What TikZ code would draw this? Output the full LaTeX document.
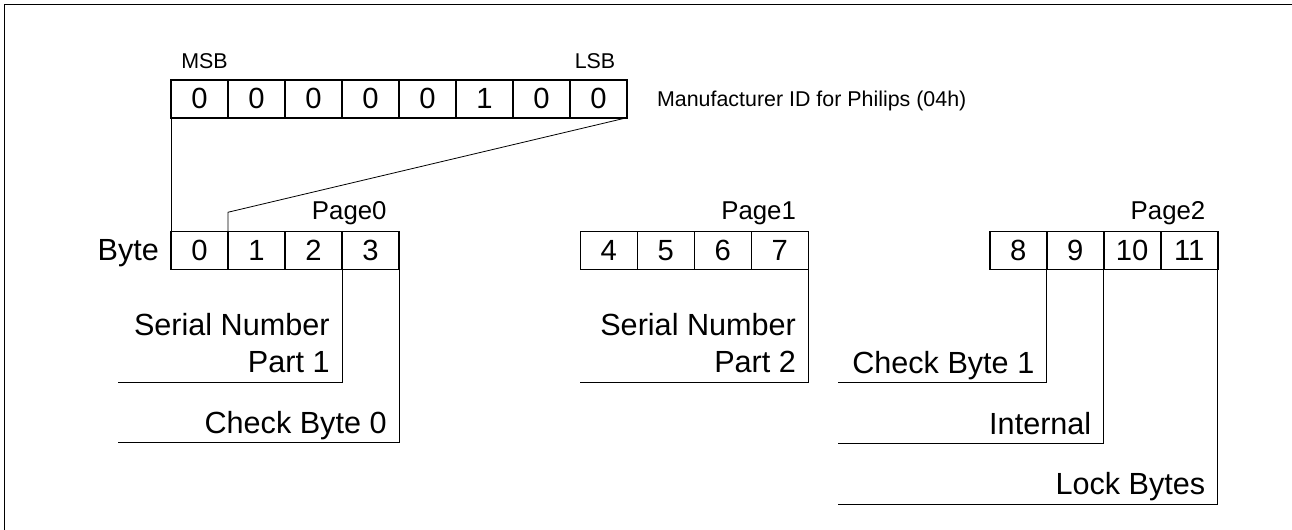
\documentclass[tikz,border=0pt]{standalone}
\usepackage{fontspec}
\setmainfont{Liberation Sans}
\usetikzlibrary{calc,positioning}

\tikzset{
	cell/.style={draw=black,line width=0.8pt,minimum width=28.5pt,minimum height=18.85pt,inner sep=0pt,outer sep=0pt,font=\fontsize{14.6}{18}\selectfont},
	lead/.style={draw=black,line width=0.4pt},
	tag/.style={inner sep=0pt,font=\fontsize{15.3}{18.8}\selectfont},
	pagetag/.style={inner sep=0pt,anchor=base east,font=\fontsize{12.9}{15}\selectfont},
	bittag/.style={inner sep=0pt,font=\fontsize{10.7}{13}\selectfont}
}

\begin{document}
\begin{tikzpicture}[x=0.5pt,y=-0.5pt]
		\useasboundingbox (0,0) rectangle (1292,530);
		\draw[line width=0.8pt] (4.5,530) -- (4.5,4.5) -- (1292,4.5);

		\coordinate(T) at (199.5,98.85);
		\coordinate(P0) at (199.5,250.5);
		\coordinate(P1) at (608.8,250.5);
		\coordinate(P2) at (1018.2,250.5);

		% Draw bits of the manufacturer byte
		\node[cell] (bit0) at (T) {0};
		\node[cell] (bit1) at ($(T)+(57,0)$) {0};
		\node[cell] (bit2) at ($(T)+(114,0)$) {0};
		\node[cell] (bit3) at ($(T)+(171,0)$) {0};
		\node[cell] (bit4) at ($(T)+(228,0)$) {0};
		\node[cell] (bit5) at ($(T)+(285,0)$) {1};
		\node[cell] (bit6) at ($(T)+(342,0)$) {0};
		\node[cell] (bit7) at ($(T)+(399,0)$) {0};
		\node[bittag,anchor=base] (msb) at ($(bit0.north)+(5,-11.7)$) {MSB};
		\node[bittag,anchor=base] (lsb) at ($(bit7.north)+(-3.5,-11.7)$) {LSB};
		\node[bittag,anchor=base west] (mfr) at ($(bit7.east)+(29.7,7.85)$) {Manufacturer ID for Philips (04h)};

		% Draw pages
		\node[cell] (byte0) at (P0) {0};
		\node[cell] (byte1) at ($(P0)+(57,0)$) {1};
		\node[cell] (byte2) at ($(P0)+(114,0)$) {2};
		\node[cell] (byte3) at ($(P0)+(171,0)$) {3};
		\node[cell] (byte4) at (P1) {4};
		\node[cell] (byte5) at ($(P1)+(57,0)$) {5};
		\node[cell] (byte6) at ($(P1)+(114,0)$) {6};
		\node[cell] (byte7) at ($(P1)+(171,0)$) {7};
		\node[cell] (byte8) at (P2) {8};
		\node[cell] (byte9) at ($(P2)+(57,0)$) {9};
		\node[cell] (byte10) at ($(P2)+(114,0)$) {10};
		\node[cell] (byte11) at ($(P2)+(171,0)$) {11};
		\node[tag,anchor=base east] (bytetag) at ($(byte0.west)+(-11.7,9.5)$) {Byte};
		\node[pagetag] (page0) at ($(byte3.north east)+(-12,-11.7)$) {Page0};
		\node[pagetag] (page1) at ($(byte7.north east)+(-12,-11.7)$) {Page1};
		\node[pagetag] (page2) at ($(byte11.north east)+(-12,-11.7)$) {Page2};

		% Byte 0 expanded
		\coordinate(K) at ($(byte1.north west)+(0,-19.4)$);
		\draw[lead] (bit0.south west) -- (byte0.north west);
		\draw[lead] (bit7.south east) -- (K) -- (byte1.north west);

		% Draw label brackets
		\coordinate(sn1) at (118,382.7);
		\coordinate(cb0) at (118,442.7);
		\coordinate(sn2) at (580.3,382.7);
		\coordinate(cb1) at (838.3,382.7);
		\coordinate(intl) at (838.3,443.3);
		\coordinate(lock) at (838.3,504);
		\draw[lead] (byte2.south east) |- (sn1);
		\draw[lead] (byte3.south east) |- (cb0);
		\draw[lead] (byte7.south east) |- (sn2);
		\draw[lead] (byte8.south east) |- (cb1);
		\draw[lead] (byte9.south east) |- (intl);
		\draw[lead] (byte11.south east) |- (lock);

		\node[tag,anchor=south east,align=right] (sn1tag) at ($(byte2.south east |- sn1)+(-12,-9.2)$) {Serial Number\\Part 1};
		\node[tag,anchor=base east] (cb0tag) at ($(byte3.south east |- cb0)+(-12,-9.2)$) {Check Byte 0};
		\node[tag,anchor=south east,align=right] (sn2tag) at ($(byte7.south east |- sn2)+(-12,-9.2)$) {Serial Number\\Part 2};
		\node[tag,anchor=base east] (cb1tag) at ($(byte8.south east |- cb1)+(-12,-9.2)$) {Check Byte 1};
		\node[tag,anchor=base east] (intltag) at ($(byte9.south east |- intl)+(-12,-9.2)$) {Internal};
		\node[tag,anchor=base east] (locktag) at ($(byte11.south east |- lock)+(-12,-9.2)$) {Lock Bytes};
	\end{tikzpicture}
\end{document}
